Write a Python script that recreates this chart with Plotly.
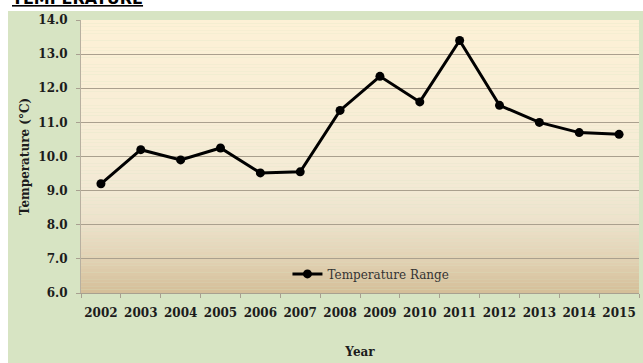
import numpy as np
import plotly.graph_objects as go

# Annual temperature range readings
years = ["2002", "2003", "2004", "2005", "2006", "2007", "2008",
         "2009", "2010", "2011", "2012", "2013", "2014", "2015"]
temp_range = [9.2, 10.2, 9.9, 10.25, 9.52, 9.55, 11.35,
              12.35, 11.6, 13.4, 11.5, 11.0, 10.7, 10.65]
y_ticks = [6, 7, 8, 9, 10, 11, 12, 13, 14]
y_tick_text = ["6.0", "7.0", "8.0", "9.0", "10.0", "11.0", "12.0", "13.0", "14.0"]

SERIF = "DejaVu Serif"
INK = "#1c1c1c"

fig = go.Figure()
fig.add_trace(go.Scatter(
    x=years, y=temp_range, mode="lines+markers", name="Temperature Range",
    line=dict(color="#000000", width=3),
    marker=dict(color="#000000", size=9),
))

shapes = []
# green chart-area panel behind everything
shapes.append(dict(type="rect", xref="paper", yref="paper",
                   x0=-0.1308, x1=1.01, y0=-0.26, y1=1.033,
                   fillcolor="#d7e4c3", line=dict(width=0), layer="below"))

# vertical cream-to-tan gradient for the plotting area
def lerp(c1, c2, t):
    return tuple(int(round(a + (b - a) * t)) for a, b in zip(c1, c2))

stops = [(14.0, (253, 241, 214)), (10.0, (246, 236, 214)), (9.0, (242, 233, 212)),
         (8.0, (236, 225, 202)), (7.0, (226, 210, 180)), (6.0, (212, 190, 152))]
n = 80
edges = np.linspace(6, 14, n + 1)
for i in range(n):
    yc = (edges[i] + edges[i + 1]) / 2
    for (ya, ca), (yb, cb) in zip(stops[:-1], stops[1:]):
        if yb <= yc <= ya:
            col = lerp(ca, cb, (ya - yc) / (ya - yb))
            break
    shapes.append(dict(type="rect", xref="paper", yref="y",
                       x0=0, x1=1, y0=edges[i], y1=edges[i + 1],
                       fillcolor="rgb(%d,%d,%d)" % col, line=dict(width=0),
                       layer="below"))

fig.update_layout(
    width=643, height=363,
    margin=dict(l=81, r=4, t=20, b=70),
    paper_bgcolor="#ffffff", plot_bgcolor="#fdf1d6",
    shapes=shapes,
    showlegend=True,
    legend=dict(x=0.37, y=0.07, xanchor="left", yanchor="middle",
                bgcolor="rgba(0,0,0,0)", itemwidth=30,
                font=dict(family=SERIF, size=12, color="#333333")),
    xaxis=dict(
        type="category", range=[-0.5, len(years) - 0.5],
        tickson="boundaries", ticks="outside", ticklen=4, tickangle=0,
        ticklabelstandoff=9,
        tickcolor="#a8a090", showgrid=False, showline=True,
        linecolor="#a8a090", linewidth=1,
        tickfont=dict(family=SERIF, size=12, color=INK, weight="bold"),
        title=dict(text="<b>Year</b>", standoff=28,
                   font=dict(family=SERIF, size=12, color=INK)),
    ),
    yaxis=dict(
        range=[6, 14], tickvals=y_ticks, ticktext=y_tick_text,
        ticks="outside", ticklen=4, tickcolor="#a8a090",
        ticklabelstandoff=6,
        showgrid=True, gridcolor="#aaa08e", gridwidth=1,
        showline=True, linecolor="#b8b0a0", linewidth=1, zeroline=False,
        tickfont=dict(family=SERIF, size=12, color=INK, weight="bold"),
        title=dict(text="<b>Temperature (°C)</b>", standoff=6,
                   font=dict(family=SERIF, size=12, color=INK)),
    ),
    annotations=[dict(
        text="<b>TEMPERATURE</b>", xref="paper", yref="paper",
        x=-0.128, y=1.0 + 22 / 273, xanchor="left", yanchor="middle",
        showarrow=False,
        font=dict(family="DejaVu Sans", size=16, color="#000000",
                  lineposition="under"),
    )],
)

fig.write_html("out.html")
